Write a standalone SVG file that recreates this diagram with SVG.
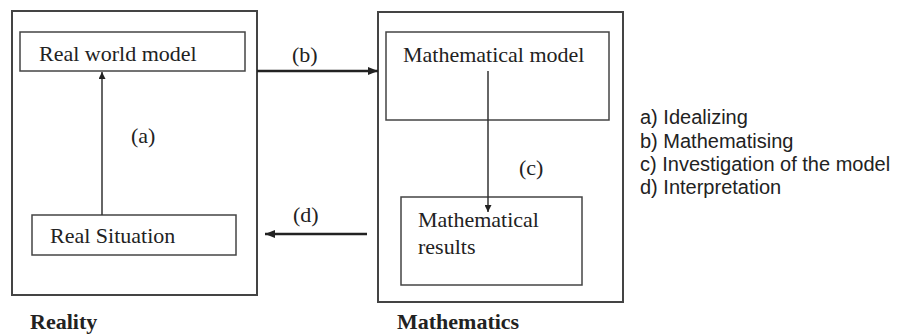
<svg xmlns="http://www.w3.org/2000/svg" width="899" height="335" viewBox="0 0 899 335">
<style>
.frame{fill:none;stroke:#444;stroke-width:2}
.box{fill:#fff;stroke:#444;stroke-width:1.5}
.t{font-family:"Liberation Serif","Times New Roman",serif;font-size:22px;fill:#222}
.b{font-family:"Liberation Serif","Times New Roman",serif;font-size:22px;font-weight:bold;fill:#222}
.lg{font-family:"Liberation Sans",Arial,sans-serif;font-size:20px;fill:#222}
.c{fill:none;stroke:#333;stroke-width:1.5}
.c2{fill:none;stroke:#222;stroke-width:2.5}
</style>
<defs>
<marker id="ah" viewBox="0 0 10 10" refX="10" refY="5" markerWidth="7" markerHeight="7" markerUnits="userSpaceOnUse" orient="auto">
<path d="M0,0 L10,5 L0,10 z" fill="#222"/>
</marker>
<marker id="ah2" viewBox="0 0 10 10" refX="10" refY="5" markerWidth="10" markerHeight="10" markerUnits="userSpaceOnUse" orient="auto">
<path d="M0,1 L10,5 L0,9 z" fill="#222"/>
</marker>
</defs>
<g id="reality">
<rect class="frame" x="12" y="11" width="245" height="284"/>
<text class="b" x="30" y="329">Reality</text>
</g>
<g id="mathematics">
<rect class="frame" x="378" y="12" width="245" height="290"/>
<text class="b" x="397" y="329">Mathematics</text>
</g>
<g id="real-world-model">
<rect class="box" x="20" y="32" width="225" height="39"/>
<text class="t" x="39" y="61">Real world model</text>
</g>
<g id="real-situation">
<rect class="box" x="32" y="215" width="204" height="40"/>
<text class="t" x="50" y="243">Real Situation</text>
</g>
<g id="mathematical-model">
<rect class="box" x="386" y="32" width="223" height="88"/>
<text class="t" x="403" y="62">Mathematical model</text>
</g>
<g id="mathematical-results">
<rect class="box" x="401" y="197" width="181" height="88"/>
<text class="t" x="418" y="227">Mathematical</text>
<text class="t" x="418" y="254">results</text>
</g>
<g id="connectors">
<line class="c" x1="102" y1="215" x2="102" y2="72" marker-end="url(#ah)"/>
<text class="t" x="131" y="143">(a)</text>
<line class="c2" x1="257" y1="71" x2="378" y2="71" marker-end="url(#ah2)"/>
<text class="t" x="292" y="62">(b)</text>
<line class="c" x1="488" y1="71" x2="488" y2="212" marker-end="url(#ah)"/>
<text class="t" x="519" y="175">(c)</text>
<line class="c2" x1="367" y1="234" x2="265" y2="234" marker-end="url(#ah2)"/>
<text class="t" x="293" y="222">(d)</text>
</g>
<g id="legend">
<text class="lg" x="640" y="124">a) Idealizing</text>
<text class="lg" x="640" y="148">b) Mathematising</text>
<text class="lg" x="640" y="171">c) Investigation of the model</text>
<text class="lg" x="640" y="194">d) Interpretation</text>
</g>
</svg>
